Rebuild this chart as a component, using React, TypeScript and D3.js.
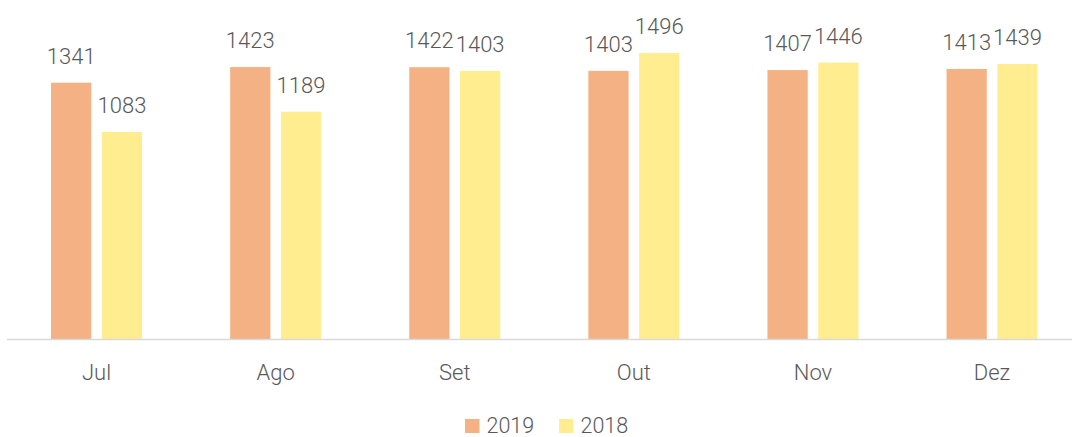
import React from 'react'
import { scaleBand, scaleLinear } from "d3";

const months = ["Jul", "Ago", "Set", "Out", "Nov", "Dez"];
const seriesNames = ["2019", "2018"];
const values2019 = [1341, 1423, 1422, 1403, 1407, 1413];
const values2018 = [1083, 1189, 1403, 1496, 1446, 1439];
const seriesColors = ["#F4B183", "#FFED8F"];

const WIDTH = 1072;
const HEIGHT = 437;
const FONT = "Roboto, 'Noto Sans', sans-serif";
const TEXT_COLOR = "#595959";

export default function App() {
    const series = [values2019, values2018];

    // outer band per month, inner band per year
    const x0 = scaleBand().domain(months).range([7, 1081.6]).paddingInner(0).paddingOuter(0);
    const x1 = scaleBand().domain(seriesNames).range([-45.5, 45.5]).paddingInner(0.207).paddingOuter(0);
    const y = scaleLinear().domain([0, 1600]).range([339, 33.2]);

    const legendX = [465, 559];

    return (
        <div>
            <style>{"body { margin: 0; overflow: hidden; }"}</style>
            <svg width={WIDTH} height={HEIGHT} style={{ display: "block" }}>
                <rect x={0} y={0} width={WIDTH} height={HEIGHT} fill="#ffffff" />
                <g id="bars">
                    {months.map((m, i) => {
                        const cx = (x0(m) ?? 0) + x0.bandwidth() / 2;
                        return (
                            <g key={m} transform={"translate(" + cx + ",0)"}>
                                {seriesNames.map((s, j) => {
                                    const v = series[j][i];
                                    const bx = x1(s) ?? 0;
                                    return (
                                        <g key={s}>
                                            <rect x={bx} y={y(v)} width={x1.bandwidth()} height={y(0) - y(v)} fill={seriesColors[j]} />
                                            <text x={bx + x1.bandwidth() / 2} y={y(v) - 19} textAnchor="middle"
                                                fontFamily={FONT} fontWeight={300} fontSize={22} fill={TEXT_COLOR}>{v}</text>
                                        </g>
                                    );
                                })}
                            </g>
                        );
                    })}
                </g>
                <line x1={7} x2={WIDTH} y1={y(0) + 0.5} y2={y(0) + 0.5} stroke="#d9d9d9" strokeWidth={1.5} />
                <g id="x_axis">
                    {months.map(m => (
                        <text key={m} x={(x0(m) ?? 0) + x0.bandwidth() / 2} y={380} textAnchor="middle"
                            fontFamily={FONT} fontWeight={300} fontSize={22} fill={TEXT_COLOR}>{m}</text>
                    ))}
                </g>
                <g id="legend">
                    {seriesNames.map((s, j) => (
                        <g key={s} transform={"translate(" + legendX[j] + ",419)"}>
                            <rect x={0} y={0} width={14.5} height={14} fill={seriesColors[j]} />
                            <text x={21.5} y={13.5} fontFamily={FONT} fontWeight={300} fontSize={21.5} fill={TEXT_COLOR}>{s}</text>
                        </g>
                    ))}
                </g>
            </svg>
        </div>
    );
}
